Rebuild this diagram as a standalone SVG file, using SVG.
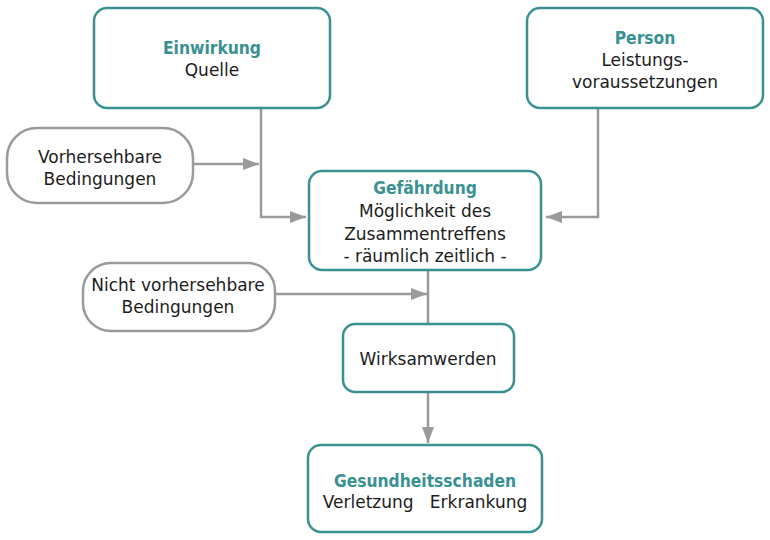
<svg xmlns="http://www.w3.org/2000/svg" width="770" height="540" viewBox="0 0 770 540">
<defs>
<marker id="ah" markerUnits="userSpaceOnUse" markerWidth="17" markerHeight="12" refX="16" refY="6" orient="auto">
<path d="M0,0 L16,6 L0,12 Z" fill="#9a9a9a"/>
</marker>
</defs>
<style>
.box{fill:#fff;stroke:#3a9191;stroke-width:2.5}
.pill{fill:#fff;stroke:#9a9a9a;stroke-width:2.5}
.t{font-family:"DejaVu Sans","Noto Sans",sans-serif;font-size:17px;fill:#1c1c1c;text-anchor:middle}
.b{font-family:"DejaVu Sans Condensed","DejaVu Sans",sans-serif;font-stretch:condensed;font-weight:bold;font-size:17.3px;fill:#3a9191;text-anchor:middle}
.c{fill:none;stroke:#9a9a9a;stroke-width:2.5}
.pre{white-space:pre}
</style>
<rect width="770" height="540" fill="#fff"/>
<g id="connectors">
<path class="c" d="M261,108 V217 H306" marker-end="url(#ah)"/>
<path class="c" d="M193,164 H259" marker-end="url(#ah)"/>
<path class="c" d="M598,108 V217 H546" marker-end="url(#ah)"/>
<path class="c" d="M428,270 V324"/>
<path class="c" d="M275,294 H427" marker-end="url(#ah)"/>
<path class="c" d="M428,392 V443" marker-end="url(#ah)"/>
</g>
<g id="einwirkung">
<rect class="box" x="94" y="8" width="236" height="100" rx="13"/>
<text class="b" x="212" y="54">Einwirkung</text>
<text class="t" x="212" y="76">Quelle</text>
</g>
<g id="person">
<rect class="box" x="527" y="8" width="236" height="100" rx="13"/>
<text class="b" x="645" y="44">Person</text>
<text class="t" x="645" y="66">Leistungs-</text>
<text class="t" x="645" y="88">voraussetzungen</text>
</g>
<g id="vorhersehbare">
<rect class="pill" x="7" y="128" width="186" height="75" rx="30"/>
<text class="t" x="100" y="163">Vorhersehbare</text>
<text class="t" x="100" y="185">Bedingungen</text>
</g>
<g id="gefaehrdung">
<rect class="box" x="309" y="171" width="232" height="99" rx="13"/>
<text class="b" x="425" y="194">Gefährdung</text>
<text class="t" x="425" y="217">Möglichkeit des</text>
<text class="t" x="425" y="240">Zusammentreffens</text>
<text class="t" x="425" y="262">- räumlich zeitlich -</text>
</g>
<g id="nicht-vorhersehbare">
<rect class="pill" x="83" y="263" width="192" height="68" rx="28"/>
<text class="t" x="178" y="291">Nicht vorhersehbare</text>
<text class="t" x="178" y="313">Bedingungen</text>
</g>
<g id="wirksamwerden">
<rect class="box" x="343" y="324" width="171" height="68" rx="12"/>
<text class="t" x="428" y="365">Wirksamwerden</text>
</g>
<g id="gesundheitsschaden">
<rect class="box" x="308" y="445" width="234" height="87" rx="13"/>
<text class="b" x="425" y="487">Gesundheitsschaden</text>
<text class="t pre" x="425" y="508">Verletzung   Erkrankung</text>
</g>
</svg>
